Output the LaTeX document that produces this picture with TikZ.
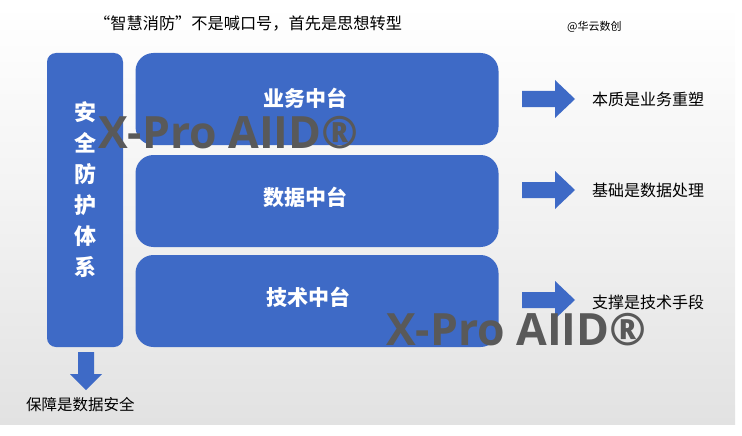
\documentclass[tikz,border=0pt]{standalone}
\usepackage{fontspec}
\usepackage{tikz}
\newfontfamily\cjk{Noto Sans CJK SC}
\newfontfamily\wmfont{Open Sans}
\definecolor{boxblue}{RGB}{62,106,198}
\definecolor{wmgray}{RGB}{89,89,89}
\definecolor{bggray}{RGB}{226,226,226}
\newcommand{\blockarrow}[1]{\fill[boxblue] (522,#1)--++(0,-8)--++(33,0)--++(0,-11)--++(20,19)--++(-20,19)--++(0,-11)--++(-33,0)--cycle;}
\newcommand{\downblock}[2]{\fill[boxblue] (#1,#2)--++(16,0)--++(0,22)--++(8,0)--++(-16,16)--++(-16,-16)--++(8,0)--cycle;}
\tikzset{
  platform/.style={fill=boxblue, rounded corners=18pt, minimum width=363pt, minimum height=92pt, inner sep=0pt},
  platlabel/.style={text=white, font=\cjk\bfseries\fontsize{21}{24}\selectfont},
  sidelabel/.style={anchor=west, inner sep=0pt, font=\cjk\fontsize{16}{19}\selectfont},
  watermark/.style={anchor=base west, inner sep=0pt, text=wmgray, font=\wmfont\bfseries\fontsize{44.5}{48}\selectfont}
}
\begin{document}
\begin{tikzpicture}[x=1pt,y=-1pt]
\useasboundingbox (0,0) rectangle (742,436);
\shade[top color=white, bottom color=bggray, middle color=white!55!bggray] (0,5) rectangle (735,424);
% title line
\node[font=\cjk\fontsize{16.2}{19}\selectfont, anchor=west, inner sep=0pt] (title) at (94,24) {“智慧消防”不是喊口号，首先是思想转型};
\node[font=\cjk\fontsize{11}{13}\selectfont, anchor=west, inner sep=0pt] (sign) at (567,27) {@华云数创};
% left column
\node[fill=boxblue, rounded corners=9pt, minimum width=76pt, minimum height=294pt, inner sep=0pt] (anquan) at (85,200) {};
\node[text=white, align=center, font=\cjk\bfseries\fontsize{22}{31}\selectfont] (anquantext) at (85,190) {安\\全\\防\\护\\体\\系};
\downblock{78}{352}
\node[font=\cjk\fontsize{15.5}{18}\selectfont, anchor=west, inner sep=0pt] (baozhang) at (26,405) {保障是数据安全};
% three platforms
\node[platform] (yewu) at (317,99) {};
\node[platform] (shuju) at (317,201) {};
\node[platform] (jishu) at (317,301) {};
\node[platlabel] (yewutext) at (305,98) {业务中台};
\node[platlabel] (shujutext) at (305,197) {数据中台};
\node[platlabel] (jishutext) at (308,297) {技术中台};
% arrows and their texts
\blockarrow{99}\blockarrow{190}\blockarrow{300}
\node[sidelabel] (benzhi) at (592,99) {本质是业务重塑};
\node[sidelabel] (jichu) at (592,190) {基础是数据处理};
\node[sidelabel] (zhicheng) at (592,302) {支撑是技术手段};
% marks
\node[watermark] (mark1) at (98,148) {X-Pro AIID®};
\node[watermark] (mark2) at (386,345) {X-Pro AIID®};
\end{tikzpicture}
\end{document}
